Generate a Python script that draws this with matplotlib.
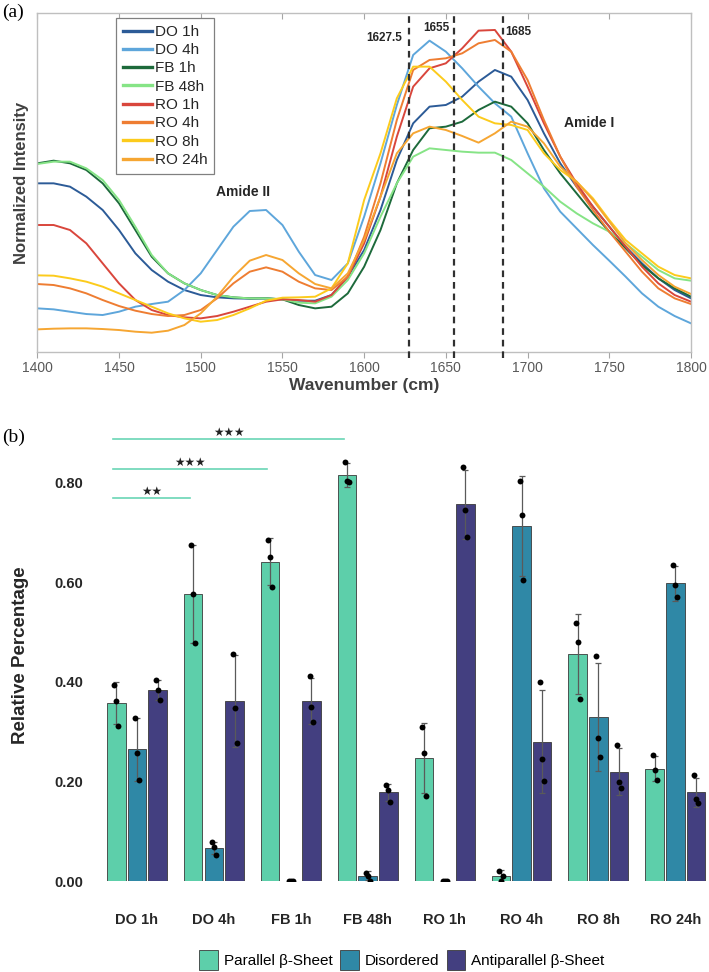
import matplotlib.pyplot as plt
import numpy as np

plt.rcParams['font.family'] = ['Liberation Sans', 'DejaVu Sans']

# ---------------- panel (a): FTIR spectra (intensity in arbitrary units) ----------------
wavenumber = list(range(1400, 1801, 10))

do_1h = [505, 505, 495, 465, 425, 365, 295, 245, 210, 185, 170, 163, 160, 159, 160, 157, 153, 153, 170, 225, 305,
         425, 575, 685, 735, 740, 765, 810, 845, 825, 755, 655, 565, 495, 435, 375, 315, 265, 220, 185, 160]
do_4h = [130, 127, 120, 113, 110, 120, 135, 143, 150, 185, 235, 305, 375, 422, 425, 380, 300, 230, 215, 265, 405,
         565, 740, 890, 933, 900, 850, 795, 745, 705, 595, 490, 420, 370, 320, 273, 225, 175, 135, 107, 85]
fb_1h = [565, 573, 565, 545, 505, 445, 365, 285, 235, 205, 185, 170, 163, 160, 160, 157, 140, 130, 135, 175, 255,
         365, 505, 605, 670, 675, 690, 725, 750, 735, 685, 605, 535, 475, 415, 360, 310, 260, 220, 190, 165]
fb_48h = [563, 570, 570, 550, 515, 455, 375, 290, 235, 205, 185, 170, 163, 160, 160, 157, 147, 145, 165, 215, 295,
          405, 505, 585, 610, 605, 600, 597, 597, 575, 535, 495, 450, 415, 385, 360, 325, 285, 245, 220, 213]
ro_1h = [380, 380, 365, 325, 265, 205, 155, 125, 110, 103, 100, 107, 120, 135, 150, 157, 155, 150, 170, 225, 325,
         465, 645, 795, 850, 865, 910, 963, 965, 900, 795, 685, 585, 505, 435, 375, 315, 255, 205, 170, 150]
ro_4h = [203, 200, 190, 175, 155, 137, 123, 113, 107, 110, 125, 160, 205, 240, 253, 240, 210, 190, 185, 225, 345,
         505, 695, 845, 875, 880, 895, 925, 935, 900, 815, 695, 585, 495, 425, 360, 300, 240, 190, 160, 143]
ro_8h = [229, 228, 220, 210, 195, 175, 155, 135, 115, 100, 90, 95, 110, 130, 153, 162, 163, 165, 190, 265, 455,
         595, 760, 855, 855, 810, 755, 705, 685, 680, 665, 595, 545, 510, 460, 395, 335, 295, 255, 230, 220]
ro_24h = [67, 69, 70, 70, 68, 65, 60, 57, 63, 80, 115, 165, 225, 273, 290, 275, 235, 203, 190, 235, 335,
          465, 595, 655, 675, 665, 647, 627, 655, 690, 675, 625, 555, 510, 455, 390, 325, 275, 230, 195, 173]

spec_labels = ['DO 1h', 'DO 4h', 'FB 1h', 'FB 48h', 'RO 1h', 'RO 4h', 'RO 8h', 'RO 24h']
spec_data = [do_1h, do_4h, fb_1h, fb_48h, ro_1h, ro_4h, ro_8h, ro_24h]
spec_colors = ['#2c5b97', '#5ea6db', '#1d6a3b', '#86e486', '#d9463c', '#ee7d32', '#fccb1c', '#f6a632']

peak_marks = [1627.5, 1655, 1685]

# ---------------- panel (b): secondary structure ----------------
groups = ['DO 1h', 'DO 4h', 'FB 1h', 'FB 48h', 'RO 1h', 'RO 4h', 'RO 8h', 'RO 24h']
parallel_mean = [0.357, 0.577, 0.642, 0.816, 0.247, 0.010, 0.456, 0.226]
disordered_mean = [0.265, 0.067, 0.001, 0.011, 0.001, 0.714, 0.330, 0.598]
anti_mean = [0.384, 0.362, 0.362, 0.178, 0.757, 0.280, 0.220, 0.178]
parallel_sd = [0.042, 0.098, 0.048, 0.025, 0.070, 0.012, 0.080, 0.025]
disordered_sd = [0.063, 0.012, 0.0, 0.009, 0.0, 0.100, 0.108, 0.035]
anti_sd = [0.020, 0.093, 0.047, 0.017, 0.070, 0.104, 0.048, 0.030]

parallel_pts = [[0.394, 0.362, 0.312], [0.675, 0.577, 0.478], [0.685, 0.652, 0.590], [0.843, 0.803, 0.801],
                [0.310, 0.258, 0.170], [0.021, 0.000, 0.010], [0.518, 0.480, 0.366], [0.253, 0.223, 0.204]]
disordered_pts = [[0.328, 0.258, 0.204], [0.078, 0.068, 0.052], [0.001, 0.001, 0.001], [0.017, 0.011, 0.000],
                  [0.001, 0.001, 0.001], [0.803, 0.736, 0.606], [0.452, 0.288, 0.250], [0.635, 0.594, 0.570]]
anti_pts = [[0.404, 0.384, 0.364], [0.457, 0.348, 0.277], [0.412, 0.350, 0.319], [0.193, 0.183, 0.159],
            [0.833, 0.746, 0.692], [0.399, 0.245, 0.202], [0.273, 0.198, 0.186], [0.213, 0.164, 0.157]]

struct_labels = ['Parallel β-Sheet', 'Disordered', 'Antiparallel β-Sheet']
struct_colors = ['#5dcfaa', '#2f88a6', '#433f80']

# significance brackets: (target group, stars, height)
sig_targets = [1, 2, 3]
sig_stars = ['★★', '★★★', '★★★']
sig_heights = [0.770, 0.828, 0.888]

fig = plt.figure(figsize=(7.09, 9.72), dpi=100)

# ---- (a) ----
ax1 = fig.add_axes([37.3 / 709, 620.3 / 972, 653.7 / 709, 338.4 / 972])
for lab, y, c in zip(spec_labels, spec_data, spec_colors):
    ax1.plot(wavenumber, y, color=c, lw=1.4, label=lab)
for w in peak_marks:
    ax1.axvline(w, color='#303030', ls=(0, (3, 2.2)), lw=1.6, ymin=-0.02, clip_on=False, zorder=5)

ax1.set_xlim(1400, 1800)
ax1.set_ylim(0, 1015)
ax1.set_yticks([])
ax1.set_xticks(range(1400, 1801, 50))
ax1.tick_params(axis='x', direction='out', length=4, color='#a6a6a6', labelsize=10,
                labelcolor='#595959', pad=3)
for s in ax1.spines.values():
    s.set_color('#bfbfbf')
    s.set_linewidth(1)
top = ax1.secondary_xaxis('top')
top.set_xticks(range(1400, 1801, 50))
top.tick_params(direction='in', length=4, color='#a6a6a6', labeltop=False)
top.spines['top'].set_visible(False)

ax1.set_xlabel('Wavenumber (cm)', fontsize=12.5, fontweight='bold', color='#404040', labelpad=1.5)
ax1.set_ylabel('Normalized Intensity', fontsize=12, fontweight='bold', color='#404040', labelpad=6)

ax1.text(1623.3, 941, '1627.5', ha='right', va='center', fontsize=8.5, fontweight='bold', color='#262626')
ax1.text(1652, 972, '1655', ha='right', va='center', fontsize=8.5, fontweight='bold', color='#262626')
ax1.text(1686.5, 960, '1685', ha='left', va='center', fontsize=8.5, fontweight='bold', color='#262626')
ax1.text(1525.6, 479, 'Amide II', ha='center', va='center', fontsize=10, fontweight='bold', color='#262626')
ax1.text(1737.4, 686, 'Amide I', ha='center', va='center', fontsize=10, fontweight='bold', color='#262626')

leg1 = ax1.legend(loc='upper left', bbox_to_anchor=(0.12, 0.986), borderaxespad=0, fontsize=11,
                  handlelength=1.9, handletextpad=0.2, labelspacing=0.28, borderpad=0.45,
                  fancybox=False, framealpha=1, edgecolor='#808080')
leg1.get_frame().set_linewidth(0.9)
for t in leg1.get_texts():
    t.set_color('#262626')
for l in leg1.get_lines():
    l.set_linewidth(2.4)

fig.text(2 / 709, 1 - 12 / 972, '(a)', family='Liberation Serif', fontsize=14, va='center', ha='left')

# ---- (b) ----
ax2 = fig.add_axes([90 / 709, 91 / 972, 619 / 709, 451 / 972])
x = np.arange(len(groups))
pitch = 0.269
width = 0.24
means_all = [parallel_mean, disordered_mean, anti_mean]
sds_all = [parallel_sd, disordered_sd, anti_sd]
pts_all = [parallel_pts, disordered_pts, anti_pts]
jitter = [-0.025, 0.0, 0.025]
for k in range(3):
    xs = x + (k - 1) * pitch
    ax2.bar(xs, means_all[k], width, color=struct_colors[k], edgecolor='#3a3a3a', linewidth=0.6,
            label=struct_labels[k], zorder=2)
    ax2.errorbar(xs, means_all[k], yerr=sds_all[k], fmt='none', ecolor='#5a5a5a', elinewidth=0.9,
                 capsize=2.5, capthick=0.9, zorder=3)
    for xi, p in zip(xs, pts_all[k]):
        ax2.scatter([xi + j for j in jitter], p, s=18, color='black', zorder=4, linewidths=0)

x0 = x[0] - pitch - 0.04
for tgt, stars, h in zip(sig_targets, sig_stars, sig_heights):
    x1 = x[tgt] - pitch - 0.04
    ax2.plot([x0, x1], [h, h], color='#6ad6b5', lw=1.2, clip_on=False)
    ax2.text((x0 + x1) / 2, h + 0.013, stars, ha='center', va='center', fontsize=8.5,
             family='DejaVu Sans', color='#222222')

ax2.set_xlim(-0.611, 7.438)
ax2.set_ylim(0, 0.9065)
ax2.set_yticks([0, 0.2, 0.4, 0.6, 0.8])
ax2.set_yticklabels(['0.00', '0.20', '0.40', '0.60', '0.80'])
ax2.set_xticks(x)
ax2.set_xticklabels(groups)
ax2.tick_params(axis='both', length=0, labelsize=10.5, labelcolor='#262626')
ax2.tick_params(axis='x', pad=23)
ax2.tick_params(axis='y', pad=5)
for lab in ax2.get_xticklabels() + ax2.get_yticklabels():
    lab.set_fontweight('bold')
for s in ax2.spines.values():
    s.set_visible(False)
ax2.set_ylabel('Relative Percentage', fontsize=13.5, fontweight='bold', color='#262626', labelpad=18)

fig.legend(*ax2.get_legend_handles_labels(), loc='center', bbox_to_anchor=(0.567, 0.0125), ncol=3,
           frameon=False, fontsize=11, handlelength=1.2, handleheight=1.6, handletextpad=0.4,
           columnspacing=0.5)

fig.text(2 / 709, 1 - 437 / 972, '(b)', family='Liberation Serif', fontsize=14, va='center', ha='left')

fig.savefig('out.png', dpi=100)
